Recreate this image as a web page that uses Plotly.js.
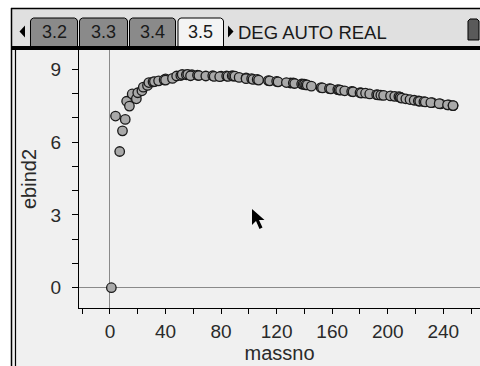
<!DOCTYPE html>
<html>
<head>
<meta charset="utf-8">
<script src="https://cdn.plot.ly/plotly-3.0.1.min.js"></script>
<style>
html,body{margin:0;padding:0;background:#fff;}
#chart{width:480px;height:366px;}
</style>
</head>
<body>
<div id="chart"></div>
<script>
// ---- data (mass number vs binding energy per nucleon, MeV) ----
const massno = [1, 4, 7, 9, 11, 12, 14, 16, 19, 20, 23, 24, 27, 28, 31, 32, 35, 40, 39, 40,
  45, 48, 51, 52, 55, 56, 59, 58, 63, 64, 69, 74, 75, 80, 79, 84, 85, 88, 89, 90,
  93, 98, 98, 102, 103, 106, 107, 114, 115, 120, 121, 130, 127, 132, 133, 138, 139, 140, 141, 142,
  145, 152, 153, 158, 159, 164, 165, 166, 169, 174, 175, 180, 181, 184, 187, 192, 193, 195, 197, 202,
  205, 208, 209, 209, 210, 213, 216, 219, 222, 223, 226, 227, 232, 231, 238, 237, 244, 243, 247, 247];
const ebind2 = [0, 7.07, 5.61, 6.46, 6.93, 7.68, 7.48, 7.98, 7.78, 8.03, 8.11, 8.26, 8.33, 8.45, 8.48, 8.49, 8.52, 8.60, 8.56, 8.55,
  8.62, 8.72, 8.74, 8.78, 8.77, 8.79, 8.77, 8.73, 8.75, 8.74, 8.72, 8.73, 8.70, 8.71, 8.69, 8.72, 8.70, 8.73, 8.71, 8.71,
  8.66, 8.64, 8.61, 8.61, 8.58, 8.58, 8.55, 8.53, 8.52, 8.50, 8.48, 8.43, 8.45, 8.43, 8.41, 8.39, 8.38, 8.38, 8.35, 8.35,
  8.30, 8.24, 8.23, 8.20, 8.19, 8.16, 8.15, 8.14, 8.11, 8.08, 8.07, 8.03, 8.02, 8.01, 7.98, 7.95, 7.94, 7.93, 7.92, 7.90,
  7.88, 7.87, 7.85, 7.84, 7.81, 7.78, 7.75, 7.72, 7.69, 7.68, 7.66, 7.65, 7.62, 7.62, 7.57, 7.58, 7.53, 7.53, 7.50, 7.50];

const xTickVals = [-20, 0, 20, 40, 60, 80, 100, 120, 140, 160, 180, 200, 220, 240, 260];
const xTickText = ['', '0', '', '40', '', '80', '', '120', '', '160', '', '200', '', '240', ''];
const yTickVals = [0, 1, 2, 3, 4, 5, 6, 7, 8, 9];
const yTickText = ['0', '', '', '3', '', '', '6', '', '', '9'];

const tabLabels = ['3.2', '3.3', '3.4', '3.5'];
const statusText = 'DEG AUTO REAL';

// ---- pixel helpers for the calculator frame ----
const W = 480, H = 366, ML = 79, MR = 0, MT = 50, MB = 58;
const PW = W - ML - MR, PH = H - MT - MB;
const X = px => (px - ML) / PW;
const Y = py => (H - MB - py) / PH;

function rect(x0, y0, x1, y1, fill, lineColor, lw) {
  return {type: 'rect', xref: 'paper', yref: 'paper', x0: X(x0), x1: X(x1), y0: Y(y1), y1: Y(y0),
    fillcolor: fill, line: {color: lineColor || fill, width: lw === undefined ? 0 : lw}, layer: 'above'};
}
function line(x0, y0, x1, y1, color, lw) {
  return {type: 'line', xref: 'paper', yref: 'paper', x0: X(x0), x1: X(x1), y0: Y(y0), y1: Y(y1),
    line: {color: color, width: lw}, layer: 'above'};
}
function path(pts, fill, lineColor, lw) {
  const d = pts.map((p, i) => (i ? 'L' : 'M') + X(p[0]).toFixed(5) + ',' + Y(p[1]).toFixed(5)).join(' ') + ' Z';
  return {type: 'path', xref: 'paper', yref: 'paper', path: d, fillcolor: fill,
    line: {color: lineColor || fill, width: lw === undefined ? 0 : lw}, layer: 'above'};
}
function tab(x0, x1, fill) {
  const y0 = 18, y1 = 47, r = 3;
  return path([[x0, y1], [x0, y0 + r], [x0 + 1, y0 + 1], [x0 + r, y0], [x1 - r, y0], [x1 - 1, y0 + 1], [x1, y0 + r], [x1, y1]],
    fill, '#000', 1);
}

const tabX = [[30.5, 77.5], [79.5, 127.5], [129.5, 175.5], [178, 223.5]];
const tabFill = ['#8a8a8a', '#8a8a8a', '#8a8a8a', '#f4f4f4'];

const shapes = [
  rect(0, 0, 11, H, '#ffffff'),
  rect(0, 0, W, 8, '#ffffff'),
  rect(12, 9, W, 46, '#e0e0e0'),
  line(11.5, 8, 11.5, H, '#000', 1.5),
  line(11, 8.5, W, 8.5, '#000', 1.5),
  line(15.5, 50, 15.5, H, '#000', 1.2),
];
tabX.forEach((t, i) => shapes.push(tab(t[0], t[1], tabFill[i])));
shapes.push(rect(11, 46, W, 50, '#000'));
// arrows
shapes.push(path([[19.5, 31.5], [25, 25.5], [25, 37.5]], '#000'));
shapes.push(path([[228, 25.5], [233.5, 31.5], [228, 37.5]], '#000'));
// battery
shapes.push(path([[468, 40], [468, 21], [470, 19], [477, 19], [479, 21], [479, 40]], '#5a5a5a', '#000', 1));
// mouse cursor
shapes.push(path([[252, 209], [252, 225], [256, 221], [259.5, 229], [262.5, 227.5], [259, 220], [264.5, 220]], '#000'));

const annotations = tabLabels.map((t, i) => ({
  text: t, xref: 'paper', yref: 'paper', x: X((tabX[i][0] + tabX[i][1]) / 2), y: Y(32),
  xanchor: 'center', yanchor: 'middle', showarrow: false,
  font: {family: 'Liberation Sans, Arial, sans-serif', size: 18, color: '#1a1a1a'}
}));
annotations.push({
  text: statusText, xref: 'paper', yref: 'paper', x: X(236), y: Y(32),
  xanchor: 'left', yanchor: 'middle', showarrow: false,
  font: {family: 'Liberation Sans, Arial, sans-serif', size: 18.5, color: '#1a1a1a'}
});

const tickFont = {family: 'Liberation Sans, Arial, sans-serif', size: 19, color: '#2a2a2a'};
const titleFont = {family: 'Liberation Sans, Arial, sans-serif', size: 20, color: '#2a2a2a'};

const trace = {
  x: massno, y: ebind2, type: 'scatter', mode: 'markers',
  marker: {size: 9.5, color: '#a9a9a9', line: {color: '#1a1a1a', width: 1.3}},
  cliponaxis: true, hoverinfo: 'skip'
};

const layout = {
  width: W, height: H,
  margin: {l: ML, r: MR, t: MT, b: MB, pad: 0},
  paper_bgcolor: '#f0f0f0', plot_bgcolor: '#f0f0f0',
  showlegend: false,
  xaxis: {
    range: [-22.3, 266.4], tickmode: 'array', tickvals: xTickVals, ticktext: xTickText,
    ticks: 'outside', ticklen: 5, tickwidth: 1, tickcolor: '#000',
    showline: true, linecolor: '#000', linewidth: 1, showgrid: false,
    zeroline: true, zerolinecolor: '#8a8a8a', zerolinewidth: 1,
    tickfont: tickFont, ticklabelstandoff: 1,
    title: {text: 'massno', font: titleFont, standoff: 0},
    automargin: false, fixedrange: true
  },
  yaxis: {
    range: [-0.836, 9.79], tickmode: 'array', tickvals: yTickVals, ticktext: yTickText,
    ticks: 'outside', ticklen: 6, tickwidth: 1, tickcolor: '#000',
    showline: true, linecolor: '#000', linewidth: 1, showgrid: false,
    zeroline: true, zerolinecolor: '#8a8a8a', zerolinewidth: 1,
    tickfont: tickFont, ticklabelstandoff: 7,
    title: {text: 'ebind2', font: titleFont, standoff: 8},
    automargin: false, fixedrange: true
  },
  shapes: shapes,
  annotations: annotations
};

Plotly.newPlot('chart', [trace], layout, {staticPlot: true, displayModeBar: false});
</script>
</body>
</html>
